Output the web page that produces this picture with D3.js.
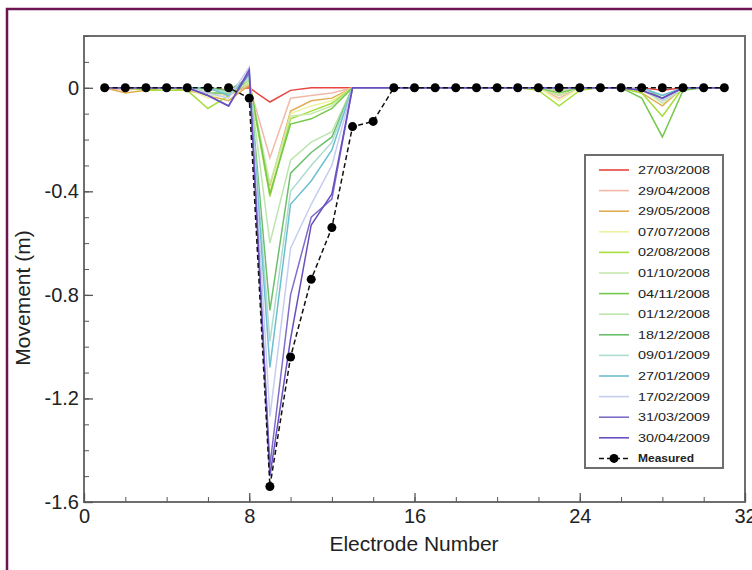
<!DOCTYPE html>
<html>
<head>
<meta charset="utf-8">
<script src="https://cdn.jsdelivr.net/npm/d3@7"></script>
<style>
  body { margin: 0; background: #fff; }
  text { font-family: "Liberation Sans", Arial, sans-serif; fill: #222; }
</style>
</head>
<body>
<svg width="752" height="570"></svg>
<script>
// electrode numbers along the line
var electrodes = [1,2,3,4,5,6,7,8,9,10,11,12,13,14,15,16,17,18,19,20,21,22,23,24,25,26,27,28,29,30,31];

// survey dates (legend order) and colours
var dates = ["27/03/2008","29/04/2008","29/05/2008","07/07/2008","02/08/2008","01/10/2008","04/11/2008",
             "01/12/2008","18/12/2008","09/01/2009","27/01/2009","17/02/2009","31/03/2009","30/04/2009"];
var colors = ["#e8453e","#f2b9a8","#e0ae52","#eef3a0","#a6de3e","#c6e9ae","#74c84c",
              "#bde5ae","#6cbf6c","#aedbcf","#6cbfd2","#c6cef0","#7e6ec8","#6a4ec0"];

// modelled movement (m) per electrode, one row per date
var movement = [
  [0,0,0,0,0,0,-0.01,0,-0.055,-0.01,0,0,0,0,0,0,0,0,0,0,0,0,-0.01,0,0,0,0,-0.01,0,0,0],
  [0,-0.01,0,0,0,-0.02,-0.03,0.01,-0.27,-0.04,-0.03,-0.02,0,0,0,0,0,0,0,0,0,0,-0.04,0,0,0,-0.01,-0.05,0,0,0],
  [0,-0.02,-0.01,0,-0.01,-0.03,-0.05,0.01,-0.38,-0.09,-0.05,-0.04,0,0,0,0,0,0,0,0,0,0,-0.03,0,0,0,-0.02,-0.07,0,0,0],
  [0,0,0,0,0,-0.04,-0.02,0.02,-0.40,-0.10,-0.07,-0.05,0,0,0,0,0,0,0,0,0,0,-0.05,0,0,0,0,-0.04,0,0,0],
  [0,0,-0.01,-0.01,-0.01,-0.08,-0.03,0.02,-0.42,-0.12,-0.09,-0.06,0,0,0,0,0,0,0,0,0,-0.01,-0.07,-0.01,0,0,-0.02,-0.11,0,0,0],
  [0,0,0,0,0,-0.03,-0.02,0.02,-0.37,-0.11,-0.10,-0.07,0,0,0,0,0,0,0,0,0,0,-0.03,0,0,0,0,-0.06,0,0,0],
  [0,0,0,0,0,-0.02,-0.02,0.03,-0.41,-0.14,-0.12,-0.08,0,0,0,0,0,0,0,0,0,0,-0.02,0,0,0,-0.04,-0.19,-0.01,0,0],
  [0,0,0,0,0,-0.01,-0.01,0.03,-0.60,-0.28,-0.21,-0.17,0,0,0,0,0,0,0,0,0,0,-0.01,0,0,0,0,-0.05,0,0,0],
  [0,0,0,0,0,0,-0.01,0.04,-0.86,-0.33,-0.25,-0.19,0,0,0,0,0,0,0,0,0,0,0,0,0,0,0,-0.04,0,0,0],
  [0,0,0,0,0,0,-0.02,0.04,-0.98,-0.40,-0.30,-0.21,0,0,0,0,0,0,0,0,0,0,0,0,0,0,0,-0.03,0,0,0],
  [0,0,0,0,0,0,-0.03,0.05,-1.08,-0.45,-0.36,-0.24,0,0,0,0,0,0,0,0,0,0,0,0,0,0,0,-0.03,0,0,0],
  [0,0,0,0,0,-0.02,-0.04,0.08,-1.27,-0.62,-0.45,-0.30,0,0,0,0,0,0,0,0,0,0,0,0,0,0,0,-0.05,0,0,0],
  [0,0,0,0,0,-0.03,-0.07,0.06,-1.46,-0.80,-0.50,-0.43,0,0,0,0,0,0,0,0,0,0,0,0,0,0,-0.01,-0.04,0,0,0],
  [0,0,0,0,0,-0.03,-0.07,0.07,-1.50,-0.97,-0.53,-0.41,0,0,0,0,0,0,0,0,0,0,0,0,0,0,-0.01,-0.04,0,0,0]
];

// measured movement (m)
var measured = [0,0,0,0,0,0,0,-0.04,-1.54,-1.04,-0.74,-0.54,-0.15,-0.13,0,0,0,0,0,0,0,0,0,0,0,0,0,0,0,0,0];

var xTicks = [0, 8, 16, 24, 32];
var yTicks = [0, -0.4, -0.8, -1.2, -1.6];

var svg = d3.select("svg");

// outer maroon frame (cropped on right and bottom)
svg.append("path")
    .attr("d", "M7,575 L7,9 L760,9")
    .attr("fill", "none")
    .attr("stroke", "#6d1552")
    .attr("stroke-width", 2.5);

var x = d3.scaleLinear().domain([0, 32]).range([84, 745]);
var y = d3.scaleLinear().domain([-1.6, 0.2]).range([502, 36]);

// plot box
svg.append("rect")
    .attr("x", x(0)).attr("y", y(0.2))
    .attr("width", x(32) - x(0)).attr("height", y(-1.6) - y(0.2))
    .attr("fill", "none")
    .attr("stroke", "#6e6e6e")
    .attr("stroke-width", 2);

// minor ticks
svg.append("g")
    .attr("transform", "translate(0," + y(-1.6) + ")")
    .call(d3.axisBottom(x).tickValues(d3.range(0, 33, 2)).tickSize(-5).tickFormat(""))
    .call(g => g.select(".domain").remove())
    .selectAll("line").attr("stroke", "#555");
svg.append("g")
    .attr("transform", "translate(" + x(0) + ",0)")
    .call(d3.axisLeft(y).tickValues(d3.range(-16, 3).map(d => d / 10)).tickSize(-5).tickFormat(""))
    .call(g => g.select(".domain").remove())
    .selectAll("line").attr("stroke", "#555");

// major ticks with labels (plain hyphen as minus sign)
var xAxis = svg.append("g")
    .attr("transform", "translate(0," + y(-1.6) + ")")
    .call(d3.axisBottom(x).tickValues(xTicks).tickSize(-9).tickPadding(7).tickFormat(d => String(d)));
xAxis.select(".domain").remove();
xAxis.selectAll("line").attr("stroke", "#555").attr("stroke-width", 1.3);
xAxis.selectAll("text").style("font-size", "20px").attr("fill", "#222");

var yAxis = svg.append("g")
    .attr("transform", "translate(" + x(0) + ",0)")
    .call(d3.axisLeft(y).tickValues(yTicks).tickSize(-9).tickPadding(5).tickFormat(d => d === 0 ? "0" : d.toFixed(1)));
yAxis.select(".domain").remove();
yAxis.selectAll("line").attr("stroke", "#555").attr("stroke-width", 1.3);
yAxis.selectAll("text").style("font-size", "20px").attr("fill", "#222");

// axis titles
svg.append("text")
    .attr("x", 414).attr("y", 551)
    .attr("text-anchor", "middle")
    .style("font-size", "21px")
    .text("Electrode Number");
svg.append("text")
    .attr("transform", "translate(30,298) rotate(-90)")
    .attr("text-anchor", "middle")
    .style("font-size", "21px")
    .text("Movement (m)");

// modelled lines
var line = d3.line()
    .x((d, i) => x(electrodes[i]))
    .y(d => y(d));

svg.append("g")
    .selectAll("path")
    .data(movement)
    .enter()
    .append("path")
    .attr("d", line)
    .attr("fill", "none")
    .attr("stroke", (d, i) => colors[i])
    .attr("stroke-width", 1.5);

// measured
svg.append("path")
    .datum(measured)
    .attr("d", line)
    .attr("fill", "none")
    .attr("stroke", "#111")
    .attr("stroke-width", 1.5)
    .attr("stroke-dasharray", "5,3");

svg.append("g")
    .selectAll("circle")
    .data(measured)
    .enter()
    .append("circle")
    .attr("cx", (d, i) => x(electrodes[i]))
    .attr("cy", d => y(d))
    .attr("r", 4.5)
    .attr("fill", "#000");

// legend
var legend = svg.append("g").attr("transform", "translate(585,155)");
legend.append("rect")
    .attr("width", 138).attr("height", 313)
    .attr("fill", "#fff")
    .attr("stroke", "#6e6e6e")
    .attr("stroke-width", 2);

var items = legend.selectAll("g.item")
    .data(dates)
    .enter()
    .append("g")
    .attr("class", "item")
    .attr("transform", (d, i) => "translate(0," + (15 + i * 20.6) + ")");
items.append("line")
    .attr("x1", 14).attr("x2", 44)
    .attr("stroke", (d, i) => colors[i])
    .attr("stroke-width", 1.6);
items.append("text")
    .attr("x", 53).attr("y", 4)
    .attr("textLength", 72)
    .attr("lengthAdjust", "spacingAndGlyphs")
    .style("font-size", "11px")
    .attr("fill", "#333")
    .text(d => d);

var mItem = legend.append("g").attr("transform", "translate(0," + (15 + 14 * 20.6) + ")");
mItem.append("line")
    .attr("x1", 14).attr("x2", 44)
    .attr("stroke", "#111").attr("stroke-width", 1.5)
    .attr("stroke-dasharray", "5,3");
mItem.append("circle").attr("cx", 29).attr("r", 4.5).attr("fill", "#000");
mItem.append("text")
    .attr("x", 53).attr("y", 4)
    .attr("textLength", 56)
    .attr("lengthAdjust", "spacingAndGlyphs")
    .style("font-size", "11px")
    .style("font-weight", "bold")
    .attr("fill", "#333")
    .text("Measured");
</script>
</body>
</html>
